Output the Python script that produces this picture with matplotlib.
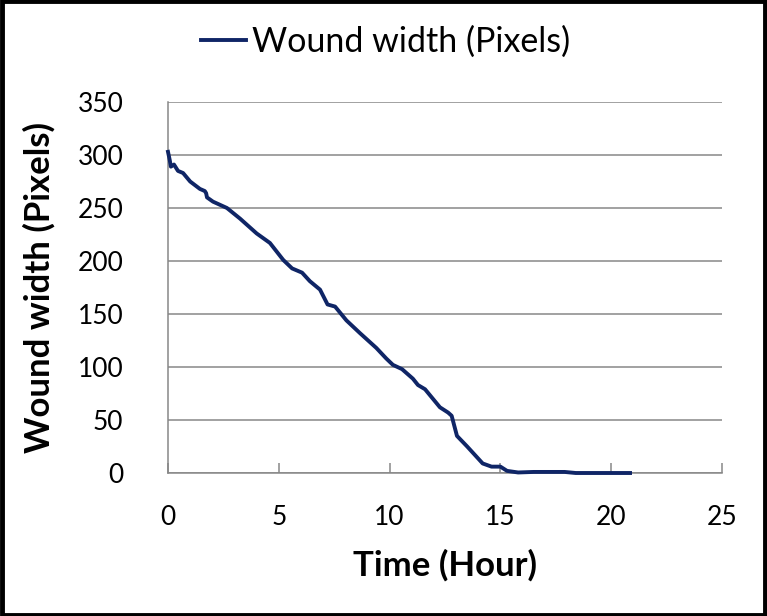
import matplotlib
matplotlib.use("Agg")
import matplotlib.pyplot as plt
from matplotlib.patches import Rectangle

plt.rcParams['font.family'] = ['Lato', 'DejaVu Sans']

hours = [0.0, 0.08, 0.13, 0.27, 0.45, 0.68, 1.0, 1.44, 1.66, 1.72, 1.76, 2.03, 2.66, 3.25, 4.0, 4.6,
         5.2, 5.6, 6.05, 6.4, 6.86, 7.2, 7.54, 8.05, 8.66, 9.4, 9.85, 10.15, 10.56, 11.05,
         11.28, 11.6, 12.27, 12.64, 12.8, 13.04, 13.5, 14.2, 14.6, 15.0, 15.3, 15.8,
         16.5, 17.9, 18.4, 20.85]
width = [303, 295, 289, 291, 285, 283, 275, 268, 266, 264, 260, 256, 250, 240, 226, 217,
         201, 193, 189, 181, 173, 159, 157, 144, 132, 118, 108, 102, 98, 89,
         83, 79, 62, 57, 54, 35, 25, 9, 6, 6, 2, 0.5,
         1, 1, 0, 0]

xticks = [0, 5, 10, 15, 20, 25]
yticks = [0, 50, 100, 150, 200, 250, 300, 350]

fig = plt.figure(figsize=(7.67, 6.16), dpi=100)
ax = fig.add_axes([168/767, 1-473/616, (722-168)/767, (473-102)/616])

ax.plot(hours, width, color='#0f2566', lw=2.8, label='Wound width (Pixels)',
        solid_joinstyle='round', clip_on=False, zorder=3)
ax.set_xlim(0, 25)
ax.set_ylim(0, 350)
ax.set_xticks(xticks)
ax.set_yticks(yticks)
ax.grid(axis='y', color='#878787', lw=1.1)
ax.set_axisbelow(True)
for s in ['top', 'right']:
    ax.spines[s].set_visible(False)
for s in ['left', 'bottom']:
    ax.spines[s].set_color('#878787')
    ax.spines[s].set_linewidth(1.1)
ax.tick_params(axis='x', direction='in', length=7, width=1.1, color='#878787',
               labelsize=19, pad=23)
ax.tick_params(axis='y', length=0, labelsize=19, pad=32)
ax.set_xlabel('Time (Hour)', fontsize=25, fontweight='bold', labelpad=14)
ax.set_ylabel('Wound width (Pixels)', fontsize=25, fontweight='bold', labelpad=16)

fig.legend(loc='center', bbox_to_anchor=(386/767, 1-42/616), frameon=False,
           fontsize=24.5, handlelength=1.3, handletextpad=0.2)

fig.patches.append(Rectangle((0.002, 0.002), 0.996, 0.996, transform=fig.transFigure,
                             fill=False, edgecolor='black', lw=3.5))
fig.savefig('out.png', dpi=100)
